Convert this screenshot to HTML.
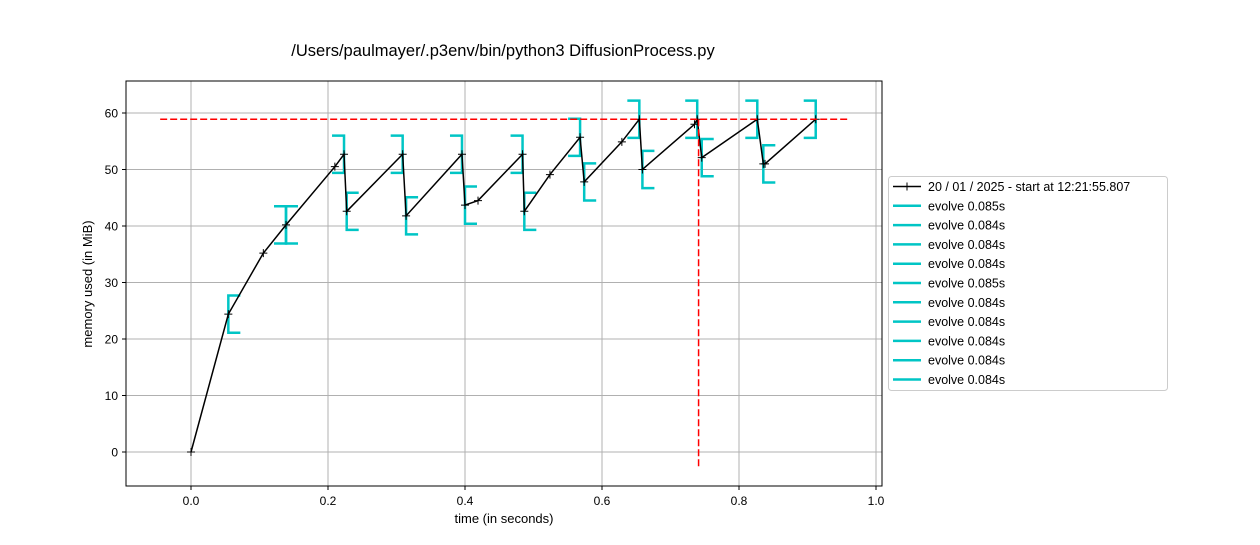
<!DOCTYPE html>
<html><head><meta charset="utf-8"><style>
body{margin:0;background:#fff;}
svg{font-family:"Liberation Sans","DejaVu Sans",sans-serif;}
</style></head><body>
<svg id="chart" width="1260" height="540" viewBox="0 0 1260 540" xmlns="http://www.w3.org/2000/svg">
<rect width="1260" height="540" fill="#fff"/>
<text x="503" y="56" text-anchor="middle" font-size="16.5">/Users/paulmayer/.p3env/bin/python3 DiffusionProcess.py</text>
<g id="grid"></g>
<g id="plot"></g>
<rect x="126" y="81" width="756" height="405" fill="none" stroke="#000" stroke-width="1"/>
<text x="504" y="523" text-anchor="middle" font-size="13">time (in seconds)</text>
<text transform="translate(92,284) rotate(-90)" text-anchor="middle" font-size="13">memory used (in MiB)</text>
<g id="legend"></g>
</svg>
<script>
const times=[0,0.0545,0.1056,0.1387,0.210,0.2234,0.2273,0.309,0.314,0.3956,0.400,0.419,0.484,0.4866,0.524,0.568,0.574,0.629,0.6545,0.659,0.735,0.739,0.7456,0.8267,0.8355,0.838,0.912];
const mem=[0,24.4,35.2,40.2,50.5,52.7,42.6,52.7,41.8,52.7,43.7,44.5,52.7,42.6,49.1,55.7,47.8,54.9,58.9,50.0,58.0,58.9,52.1,58.9,51.0,51.0,58.9];
const evStart=[0.0545,0.1387,0.2273,0.314,0.400,0.4866,0.574,0.659,0.7456,0.8355];
const evStartMem=[24.4,40.2,42.6,41.8,43.7,42.6,47.8,50.0,52.1,51.0];
const evEnd=[0.1387,0.2234,0.309,0.3956,0.484,0.568,0.6545,0.739,0.8267,0.912];
const evEndMem=[40.2,52.7,52.7,52.7,52.7,55.7,58.9,58.9,58.9,58.9];
const evLabels=["evolve 0.085s","evolve 0.084s","evolve 0.084s","evolve 0.084s","evolve 0.085s","evolve 0.084s","evolve 0.084s","evolve 0.084s","evolve 0.084s","evolve 0.084s"];
const xTicks=[0,0.2,0.4,0.6,0.8,1.0];
const xTickLabels=["0.0","0.2","0.4","0.6","0.8","1.0"];
const yTicks=[0,10,20,30,40,50,60];
const peakMem=58.9, peakTime=0.741, hLineX=[-0.045,0.959], vLineBottom=-2.65;
const legendTitle="20 / 01 / 2025 - start at 12:21:55.807";

const X=v=>191+(v)*685;
const Y=v=>452-v*5.65;
const NS="http://www.w3.org/2000/svg";
function mk(tag,attrs,parent){const e=document.createElementNS(NS,tag);for(const k in attrs)e.setAttribute(k,attrs[k]);parent.appendChild(e);return e;}
const grid=document.getElementById('grid'),plot=document.getElementById('plot'),svg=document.getElementById('chart');

xTicks.forEach((t,i)=>{
  const l=mk('line',{x1:X(t),x2:X(t),y1:81,y2:486,stroke:'#b0b0b0','stroke-width':1},grid);
  
  
  const tk=mk('line',{x1:X(t),x2:X(t),y1:486,y2:490,stroke:'#000'},grid);
  
  
  const tx=mk('text',{x:X(t),y:505,'text-anchor':'middle','font-size':12},grid);
  tx.textContent=xTickLabels[i];
  
  
});
yTicks.forEach(t=>{
  const l=mk('line',{x1:126,x2:882,y1:Y(t),y2:Y(t),stroke:'#b0b0b0','stroke-width':1},grid);
  
  
  const tk=mk('line',{x1:122,x2:126,y1:Y(t),y2:Y(t),stroke:'#000'},grid);
  
  
  const tx=mk('text',{x:118,y:Y(t)+4.5,'text-anchor':'end','font-size':12},grid);
  tx.textContent=String(t);
  
  
});

const H=18.6, T=12;
function bracket(x,y,dir){
  const px=X(x),py=Y(y);
  return mk('path',{d:`M${px+dir*T},${py-H} L${px},${py-H} L${px},${py+H} L${px+dir*T},${py+H}`,fill:'none',stroke:'#00c5c5','stroke-width':2.5},plot);
}
evStart.forEach((s,i)=>{
  const b=bracket(s,evStartMem[i],1);
  
  
  const e=bracket(evEnd[i],evEndMem[i],-1);
  
  
});

const pl=mk('polyline',{points:times.map((t,i)=>X(t)+','+Y(mem[i])).join(' '),fill:'none',stroke:'#000','stroke-width':1.5},plot);


times.forEach((t,i)=>{
  const px=X(t),py=Y(mem[i]);
  const m=mk('path',{d:`M${px-4},${py}H${px+4}M${px},${py-4}V${py+4}`,stroke:'#000','stroke-width':1},plot);
  
  
});

const hl=mk('line',{x1:X(hLineX[0]),x2:X(hLineX[1]),y1:Y(peakMem),y2:Y(peakMem),stroke:'#f00','stroke-width':1.5,'stroke-dasharray':'7,3'},plot);


const vl=mk('line',{x1:X(peakTime),x2:X(peakTime),y1:Y(peakMem),y2:Y(vLineBottom),stroke:'#f00','stroke-width':1.5,'stroke-dasharray':'7,3'},plot);



const lg=document.getElementById('legend');
const box=mk('rect',{x:888.5,y:176.5,width:279,height:214,rx:3,fill:'#fff',stroke:'#ccc'},lg);


const entries=[legendTitle].concat(evLabels);
entries.forEach((lab,i)=>{
  const y=186.5+i*19.3;
  const g=mk('g',{},lg);
  
  
  mk('line',{x1:893,x2:921,y1:y,y2:y,stroke:i===0?'#000':'#00c5c5','stroke-width':i===0?1.5:2.5},g);
  if(i===0)mk('path',{d:`M903,${y}H911M907,${y-4}V${y+4}`,stroke:'#000'},g);
  const t=mk('text',{x:928,y:y+4.5,'font-size':12.5},g);
  t.textContent=lab;
});
</script>
</body></html>
